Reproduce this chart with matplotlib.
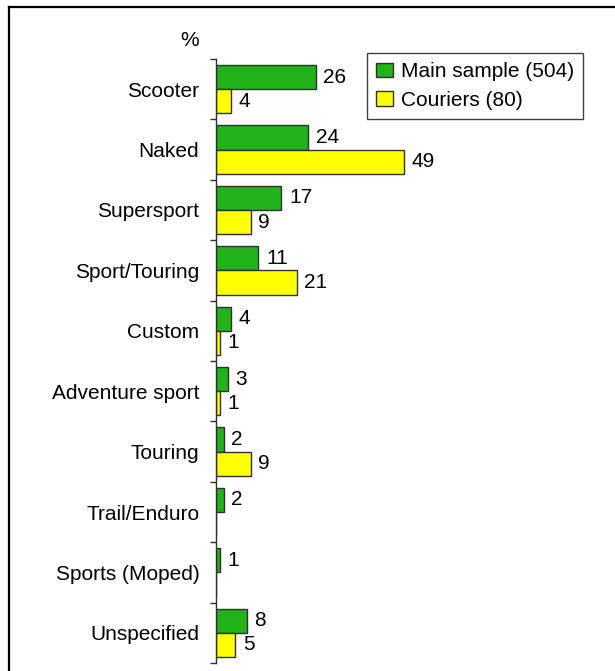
import numpy as np
import matplotlib
matplotlib.use("Agg")
import matplotlib.pyplot as plt
from matplotlib.lines import Line2D
from matplotlib.patches import Rectangle
from matplotlib.legend_handler import HandlerPatch

plt.rcParams["font.family"] = ["Liberation Sans", "DejaVu Sans"]

# Motorcycle type share (%), main sample vs couriers
categories = ["Scooter", "Naked", "Supersport", "Sport/Touring", "Custom",
              "Adventure sport", "Touring", "Trail/Enduro", "Sports (Moped)",
              "Unspecified"]
main_sample = [26, 24, 17, 11, 4, 3, 2, 2, 1, 8]
couriers = [4, 49, 9, 21, 1, 1, 9, None, None, 5]
series_names = ["Main sample (504)", "Couriers (80)"]

GREEN = "#20b31a"
YELLOW = "#ffff00"
EDGE = "#303030"
FONT_SIZE = 15


def square_handle(legend, orig_handle, xdescent, ydescent, width, height, fontsize):
    # small square pushed to the right end of the handle box
    size = 0.58 * fontsize
    return Rectangle((-xdescent + width - size, -ydescent + (height - size) / 2),
                     size, size)


fig = plt.figure(figsize=(6.15, 6.71), dpi=100)
ax = fig.add_axes([216 / 615, 8 / 671, 384 / 615, 604 / 671])

y = np.arange(len(categories))
bar_h = 0.4

for values, offset, color, name in [(main_sample, -bar_h / 2, GREEN, series_names[0]),
                                    (couriers, bar_h / 2, YELLOW, series_names[1])]:
    vals = [v if v is not None else 0 for v in values]
    ax.barh(y + offset, vals, height=bar_h, color=color, edgecolor=EDGE,
            linewidth=1.0, label=name)
    for yi, v in zip(y, values):
        if v is None:
            continue
        ax.annotate(str(v), (v, yi + offset), xytext=(5.5, 0),
                    textcoords="offset points", ha="left", va="center",
                    fontsize=FONT_SIZE)

ax.set_xlim(0, 100)
ax.set_ylim(len(categories) - 0.5, -0.5)

# category labels at centres, tick marks at the boundaries
ax.set_yticks(y)
ax.set_yticklabels(categories, fontsize=FONT_SIZE)
ax.set_yticks(np.arange(len(categories) + 1) - 0.5, minor=True)
ax.tick_params(axis="y", which="major", length=0, pad=12)
ax.tick_params(axis="y", which="minor", length=4, width=1, color=EDGE,
               direction="out")
ax.set_xticks([])

for side in ["top", "right", "bottom"]:
    ax.spines[side].set_visible(False)
ax.spines["left"].set_color(EDGE)
ax.spines["left"].set_linewidth(1.0)

fig.text(190 / 615, 1 - 40 / 671, "%", ha="center", va="center",
         fontsize=FONT_SIZE)

leg = ax.legend(loc="upper left", bbox_to_anchor=(367 / 615, 1 - 53 / 671),
                bbox_transform=fig.transFigure, fontsize=FONT_SIZE,
                handler_map={Rectangle: HandlerPatch(patch_func=square_handle)},
                handlelength=0.8, handleheight=0.7, handletextpad=0.38,
                labelspacing=0.45, borderpad=0.45, borderaxespad=0,
                fancybox=False, framealpha=1)
leg.get_frame().set_edgecolor("#404040")
leg.get_frame().set_linewidth(1.0)

# outer frame (top and left edges)
fig.add_artist(Line2D([9 / 615, 1.0], [1 - 7 / 671, 1 - 7 / 671],
                      transform=fig.transFigure, color="black", linewidth=1.6))
fig.add_artist(Line2D([9 / 615, 9 / 615], [1 - 7 / 671, 0.0],
                      transform=fig.transFigure, color="black", linewidth=1.6))

fig.savefig("out.png", dpi=100)
